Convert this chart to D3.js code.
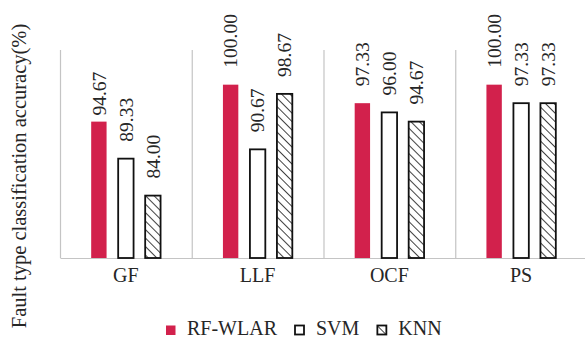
<!DOCTYPE html>
<html>
<head>
<meta charset="utf-8">
<script src="https://cdn.jsdelivr.net/npm/d3@7"></script>
<style>
  html, body { margin: 0; padding: 0; background: #fff; }
  svg text { font-family: "Liberation Serif", serif; fill: #262626; }
</style>
</head>
<body>
<svg id="chart" width="585" height="340"></svg>
<script>
// Fault types on the x axis
const categories = ["GF", "LLF", "OCF", "PS"];
// Classifiers compared in each group
const series = ["RF-WLAR", "SVM", "KNN"];
// Accuracy (%) per classifier, one value per fault type
const rfWlar = [94.67, 100.00, 97.33, 100.00];
const svm    = [89.33, 90.67, 96.00, 97.33];
const knn    = [84.00, 98.67, 94.67, 97.33];
const yDomain = [75, 105];

const values = { "RF-WLAR": rfWlar, "SVM": svm, "KNN": knn };

const svg = d3.select("#chart");
const plot = { left: 60, right: 587, top: 50, bottom: 258 };
const red = "#D2214C";
const grid = "#C4C4C4";
const serif = '"Liberation Serif", serif';

// hatch used for the KNN bars
const defs = svg.append("defs");
defs.append("pattern")
  .attr("id", "hatch")
  .attr("patternUnits", "userSpaceOnUse")
  .attr("width", 6).attr("height", 6)
  .attr("patternTransform", "rotate(-45)")
  .call(p => {
    p.append("rect").attr("width", 6).attr("height", 6).attr("fill", "#fff");
    p.append("line").attr("x1", 0).attr("y1", 0).attr("x2", 0).attr("y2", 6)
      .attr("stroke", "#111").attr("stroke-width", 1.6);
  });

const x = d3.scaleBand().domain(categories).range([plot.left, plot.right]).padding(0);
const xs = d3.scaleBand().domain(series).range([0, x.bandwidth()])
  .paddingInner(0.43).paddingOuter(1.155);
const y = d3.scaleLinear().domain(yDomain).range([plot.bottom, plot.top]);

// group separators (the first one doubles as the y axis line)
svg.append("g").selectAll("line").data(categories).join("line")
  .attr("x1", d => x(d) + 0.5).attr("x2", d => x(d) + 0.5)
  .attr("y1", y(yDomain[1])).attr("y2", y(yDomain[0]))
  .attr("stroke", grid).attr("stroke-width", 1.2);

// category axis along the bottom, labels only
const xAxis = d3.axisBottom(x).tickSize(0).tickPadding(10);
const gx = svg.append("g").attr("transform", `translate(0,${y(yDomain[0])})`).call(xAxis)
  .attr("font-family", serif);
gx.select(".domain").attr("stroke", grid).attr("stroke-width", 1.2);
gx.selectAll("text").style("font-size", "20px")
  .style("font-family", serif).attr("fill", "#262626");

const styleOf = {
  "RF-WLAR": { fill: red, stroke: "none", sw: 0 },
  "SVM": { fill: "#fff", stroke: "#111", sw: 1.8 },
  "KNN": { fill: "url(#hatch)", stroke: "#111", sw: 1.8 }
};

const rows = [];
categories.forEach((c, i) => series.forEach(s => rows.push({ c, s, v: values[s][i] })));

const bars = svg.append("g");
bars.selectAll("rect").data(rows).join("rect")
  .attr("x", d => x(d.c) + xs(d.s))
  .attr("width", xs.bandwidth())
  .attr("y", d => y(d.v))
  .attr("height", d => y(yDomain[0]) - y(d.v))
  .attr("fill", d => styleOf[d.s].fill)
  .attr("stroke", d => styleOf[d.s].stroke)
  .attr("stroke-width", d => styleOf[d.s].sw);

// value labels, rotated above each bar
const labelGap = d => (d.c === "GF" && d.s === "RF-WLAR") ? 6 : 17;
svg.append("g").selectAll("text").data(rows).join("text")
  .attr("transform", d => `translate(${x(d.c) + xs(d.s) + xs.bandwidth() / 2},${y(d.v) - labelGap(d)}) rotate(-90)`)
  .attr("text-anchor", "start")
  .attr("dy", "0.35em")
  .style("font-size", "19.5px")
  .text(d => d3.format(".2f")(d.v));

// y axis title
svg.append("text")
  .attr("transform", "translate(26,176) rotate(-90)")
  .attr("text-anchor", "middle")
  .style("font-size", "20.5px")
  .text("Fault type classification accuracy(%)");

// legend
const legend = svg.append("g").attr("transform", "translate(166,335)");
let lx = 0;
series.forEach(s => {
  const st = styleOf[s];
  const g = legend.append("g").attr("transform", `translate(${lx},0)`);
  const sq = st.sw ? 9 : 9.5;
  g.append("rect").attr("x", 0).attr("y", -9.5).attr("width", sq).attr("height", sq)
    .attr("fill", st.fill).attr("stroke", st.stroke).attr("stroke-width", st.sw);
  const t = g.append("text").attr("x", 21).attr("y", 0).style("font-size", "20px").text(s);
  lx += 21 + t.node().getComputedTextLength() + 18;
});
</script>
</body>
</html>
